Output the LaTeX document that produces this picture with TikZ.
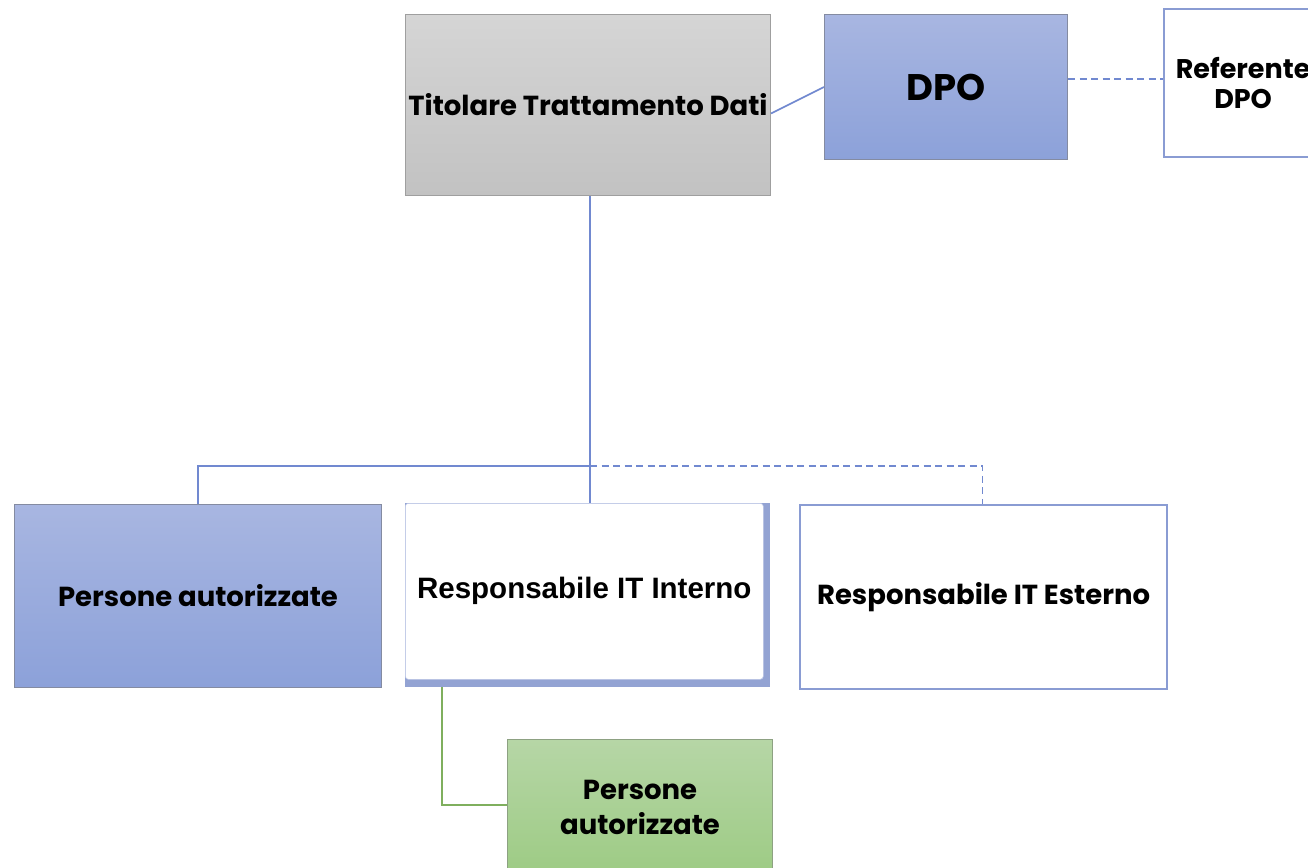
\documentclass[tikz,border=0pt]{standalone}
\usepackage{fontspec}
\setmainfont{Liberation Sans}
\newfontfamily\gothic{Poppins}
\usetikzlibrary{calc}
\definecolor{linkblue}{HTML}{7189D0}
\definecolor{edgeblue}{HTML}{8A9CD3}
\definecolor{bluetop}{HTML}{A8B6E1}
\definecolor{bluebot}{HTML}{8CA1D9}
\definecolor{graytop}{HTML}{D5D5D5}
\definecolor{graybot}{HTML}{C2C2C2}
\definecolor{greentop}{HTML}{B6D6A6}
\definecolor{greenbot}{HTML}{9DCB84}
\definecolor{greenline}{HTML}{7FAF5E}
\definecolor{shadeblue}{HTML}{93A3D3}
\tikzset{
  x=1pt, y=-1pt,
  box/.style={anchor=north west, inner sep=0pt, align=center, text=black},
  graybox/.style={box, top color=graytop, bottom color=graybot, draw=gray!75, line width=1pt},
  bluebox/.style={box, top color=bluetop, bottom color=bluebot, draw=gray!60!edgeblue, line width=1pt},
  greenbox/.style={box, top color=greentop, bottom color=greenbot, draw=gray!55!greenbot, line width=1pt},
  outlinebox/.style={box, fill=white, draw=edgeblue, line width=2.2pt},
  link/.style={draw=linkblue, line width=1.6pt},
  dashlink/.style={link, dash pattern=on 7pt off 4.5pt},
  greenlink/.style={draw=greenline, line width=1.6pt},
  gtext/.style={font=\gothic\bfseries\fontsize{27.5}{35}\selectfont}
}
\begin{document}
\begin{tikzpicture}
\useasboundingbox (0,0) rectangle (1308,867);
\clip (0,0) rectangle (1308,867);

% top row
\node[graybox, gtext, minimum width=365pt, minimum height=181pt] (tit) at (405,14)
  {Titolare Trattamento Dati};
\node[bluebox, font=\gothic\bfseries\fontsize{37}{40}\selectfont,
      minimum width=243pt, minimum height=145pt] (dpo) at (824,14) {DPO};
\node[outlinebox, font=\gothic\bfseries\fontsize{27}{30}\selectfont,
      minimum width=158pt, minimum height=148pt] (ref) at (1163,8) {Referente\\DPO};

% second row
\node[bluebox, gtext, minimum width=367pt, minimum height=183pt] (pa) at (14,504)
  {Persone autorizzate};
\node[box, fill=shadeblue, minimum width=365pt, minimum height=184pt] (intsh) at (405,503) {};
\node[box, fill=white, draw=edgeblue!60, line width=0.6pt, rounded corners=3pt,
      font=\bfseries\fontsize{29.5}{33}\selectfont,
      minimum width=358pt, minimum height=176pt] (int) at (405,503)
  {Responsabile IT Interno};
\node[outlinebox, gtext, minimum width=367pt, minimum height=184pt] (est) at (799,504)
  {Responsabile IT Esterno};

% third row
\node[greenbox, gtext, minimum width=265pt, minimum height=136pt] (pg) at (507,739)
  {Persone\\autorizzate};

% junction points
\coordinate (hub) at (590,466);
\coordinate (gk) at (442,805);

% connectors
\draw[link] ([yshift=-8.5pt]tit.east) -- (dpo.west);
\draw[dashlink] (dpo.east |- 0,79) -- (ref.west |- 0,79);
\draw[link] (tit.south -| hub) -- (hub) -- (intsh.north -| hub);
\draw[link] (hub) -| (pa.north);
\draw[dashlink] (hub) -| ([xshift=-1pt]est.north);
\draw[greenlink] (intsh.south -| gk) -- (gk) -- (pg.west |- gk);
\end{tikzpicture}
\end{document}
